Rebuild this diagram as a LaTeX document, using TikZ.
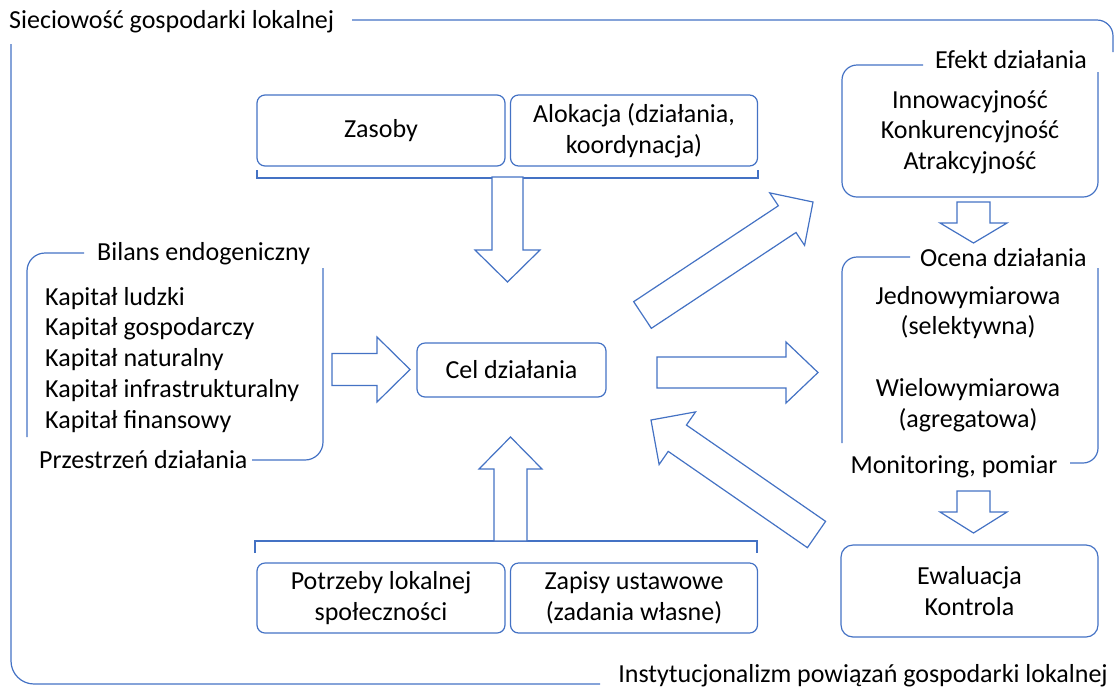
\documentclass[tikz,border=0pt]{standalone}
\usepackage{fontspec}
\setmainfont{Carlito}
\usetikzlibrary{calc}
\definecolor{ofblue}{HTML}{4472C4}
% block arrow: tail, tip, shaft half width, head half width, head length
\newcommand\blkarrow[5]{%
  \coordinate (hb) at ($(#2)!#5!(#1)$);
  \draw[barrow] ($(#1)!#3!90:(#2)$) -- ($(hb)!#3!-90:(#1)$) -- ($(hb)!#4!-90:(#1)$)
    -- (#2) -- ($(hb)!#4!90:(#1)$) -- ($(hb)!#3!90:(#1)$) -- ($(#1)!#3!-90:(#2)$) -- cycle;}
\begin{document}
\begin{tikzpicture}[x=1pt,y=-1pt,
  ln/.style={draw=ofblue,line width=1.2pt},
  box/.style={ln,rounded corners=8pt,align=center,inner sep=0pt},
  txt/.style={font=\fontsize{26}{30.5}\selectfont,text=black},
  lbl/.style={txt,inner sep=0pt},
  barrow/.style={ln,fill=white,line join=miter}]
\useasboundingbox (0,0) rectangle (1115,689);

% outer frame
\node[lbl,anchor=west] (tit) at (9,22) {Sieciowość gospodarki lokalnej};
\node[lbl,anchor=east] (inst) at (1108,676) {Instytucjonalizm powiązań gospodarki lokalnej};
\draw[ln,rounded corners=16pt] (352,20) -- (1113,20) -- (1113,52);
\draw[ln,rounded corners=23pt] (11,44) -- (11,684) -- (600,684);

% top boxes
\node[box,txt,minimum width=248,minimum height=71] (zasoby) at (381,130.5) {Zasoby};
\node[box,txt,minimum width=247,minimum height=71] (alok) at (634,130.5) {Alokacja (działania,\\koordynacja)};
\draw[ln] (257,170) -- (257,178) -- (758,178) -- (758,170);

% central goal
\node[box,txt,minimum width=189,minimum height=54] (cel) at (511.5,370) {Cel działania};

% bottom boxes
\node[box,txt,minimum width=248,minimum height=70] (potrz) at (381,598) {Potrzeby lokalnej\\społeczności};
\node[box,txt,minimum width=247,minimum height=70] (zapis) at (634,598) {Zapisy ustawowe\\(zadania własne)};
\draw[ln] (255,553) -- (255,541) -- (757,541) -- (757,553);

% left bracket
\node[lbl,anchor=west] (bil) at (97,254) {Bilans endogeniczny};
\draw[ln,rounded corners=18pt] (84,253) -- (27,253) -- (27,437);
\draw[ln,rounded corners=18pt] (323,268) -- (323,460) -- (252,460);
\node[lbl,anchor=base west] (k1) at (45,305) {Kapitał ludzki};
\node[lbl,anchor=base west] (k2) at (45,335) {Kapitał gospodarczy};
\node[lbl,anchor=base west] (k3) at (45,366) {Kapitał naturalny};
\node[lbl,anchor=base west] (k4) at (45,397) {Kapitał infrastrukturalny};
\node[lbl,anchor=base west] (k5) at (45,428) {Kapitał finansowy};
\node[lbl,anchor=west] (prz) at (39,460) {Przestrzeń działania};

% right column
\node[lbl,anchor=west] (efl) at (935,60) {Efekt działania};
\draw[ln,rounded corners=15pt] (923,65) -- (842,65) -- (842,197) -- (1098,197) -- (1098,72);
\node[txt,align=center,inner sep=0pt] (ef) at (970,132) {Innowacyjność\\Konkurencyjność\\Atrakcyjność};

\node[lbl,anchor=west] (ocl) at (920,258) {Ocena działania};
\draw[ln,rounded corners=15pt] (910,257) -- (842,257) -- (842,443);
\draw[ln,rounded corners=15pt] (1098,268) -- (1098,463) -- (1070,463);
\node[txt,align=center,inner sep=0pt] (oc1) at (968,312.5) {Jednowymiarowa\\(selektywna)};
\node[txt,align=center,inner sep=0pt] (oc2) at (968,405) {Wielowymiarowa\\(agregatowa)};
\node[lbl] (mon) at (954,467) {Monitoring, pomiar};

\node[box,txt,rounded corners=12pt,minimum width=257,minimum height=92] (ewal) at (969.5,591) {Ewaluacja\\Kontrola};

% block arrows
\coordinate (a1t) at (507.5,177); \coordinate (a1h) at (507.5,282);
\blkarrow{a1t}{a1h}{15.5pt}{32.5pt}{32pt}
\coordinate (a2t) at (510.5,541); \coordinate (a2h) at (510.5,437);
\blkarrow{a2t}{a2h}{16.5pt}{31.5pt}{32pt}
\coordinate (a3t) at (332,369.5); \coordinate (a3h) at (410,369.5);
\blkarrow{a3t}{a3h}{16pt}{32.5pt}{33pt}
\coordinate (a4t) at (642.5,315); \coordinate (a4h) at (813,202);
\blkarrow{a4t}{a4h}{16pt}{31.5pt}{31pt}
\coordinate (a5t) at (657,372.5); \coordinate (a5h) at (818,372.5);
\blkarrow{a5t}{a5h}{15.5pt}{30.5pt}{32pt}
\coordinate (a6t) at (816.5,534.5); \coordinate (a6h) at (651,420);
\blkarrow{a6t}{a6h}{16pt}{32pt}{32pt}
\coordinate (a7t) at (973.5,202); \coordinate (a7h) at (973.5,243);
\blkarrow{a7t}{a7h}{16.5pt}{33.5pt}{20pt}
\coordinate (a8t) at (973.5,491); \coordinate (a8h) at (973.5,533);
\blkarrow{a8t}{a8h}{16.5pt}{33.5pt}{21pt}
\end{tikzpicture}
\end{document}
